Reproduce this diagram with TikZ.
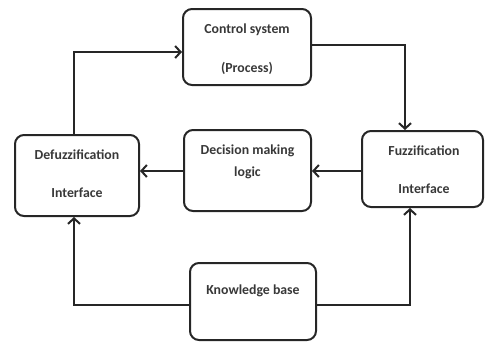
\documentclass[tikz,border=0pt]{standalone}
\usepackage{fontspec}
\setmainfont{Carlito}
\usetikzlibrary{arrows.meta}
\begin{document}
\begin{tikzpicture}[x=1pt,y=-1pt,
  box/.style={draw=black!85,line width=2pt,rounded corners=9pt,inner sep=0pt},
  lbl/.style={font=\bfseries\fontsize{13.8}{15}\selectfont,text=black!78,inner sep=0pt},
  conn/.style={draw=black!85,line width=2pt,-{Straight Barb[length=5.5pt,width=12pt,line width=2pt]}}]
\useasboundingbox (0,0) rectangle (485,341);
% boxes
\node[box,minimum width=128pt,minimum height=76pt] (ctrl) at (247,47) {};
\node[box,minimum width=124pt,minimum height=81pt] (defz) at (77,175.5) {};
\node[box,minimum width=127pt,minimum height=81pt] (dec) at (247.5,170.5) {};
\node[box,minimum width=121pt,minimum height=76pt] (fuzz) at (422.5,169) {};
\node[box,minimum width=126pt,minimum height=77pt] (kb) at (253,301.5) {};
% labels
\node[lbl] (t1) at (247,30) {Control system};
\node[lbl] (t2) at (247,68) {(Process)};
\node[lbl] (t3) at (77,155) {Defuzzification};
\node[lbl] (t4) at (77,193) {Interface};
\node[lbl] (t5) at (247.5,151) {Decision making};
\node[lbl] (t6) at (247.5,173) {logic};
\node[lbl] (t7) at (424,151) {Fuzzification};
\node[lbl] (t8) at (424,189) {Interface};
\node[lbl] (t9) at (253,291) {Knowledge base};
% connectors
\draw[conn] (defz.north -| 74,0) |- (ctrl.west |- 0,52);
\draw[conn] (ctrl.east |- 0,45) -| (fuzz.north -| 405,0);
\draw[conn] (fuzz.west |- 0,171) -- (dec.east |- 0,171);
\draw[conn] (dec.west |- 0,171) -- (defz.east |- 0,171);
\draw[conn] (kb.west |- 0,305) -| (defz.south -| 74,0);
\draw[conn] (kb.east |- 0,305) -| (fuzz.south -| 410,0);
\end{tikzpicture}
\end{document}
